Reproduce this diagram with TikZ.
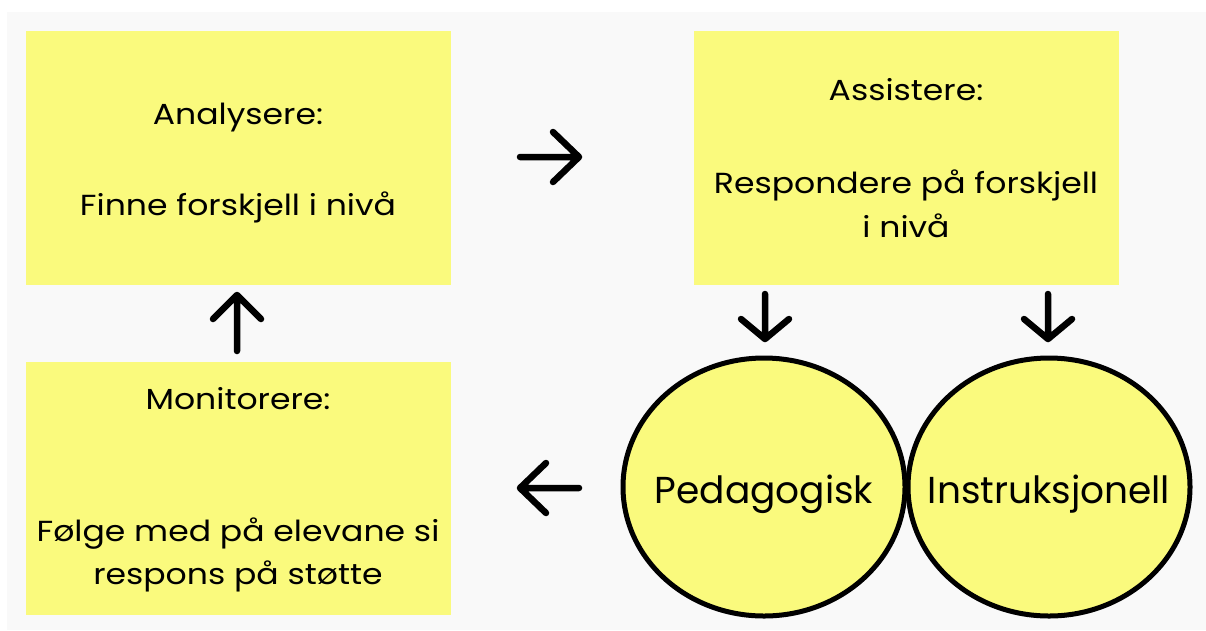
\documentclass[tikz,border=0pt]{standalone}
\usepackage{fontspec}
\setmainfont{Poppins}
\newfontfamily\boxfont[FakeStretch=1.14]{Poppins}
\usetikzlibrary{shapes.geometric}
\definecolor{stickyyellow}{RGB}{250,250,125}
\definecolor{panelgray}{RGB}{249,249,249}
\tikzset{
  sticky/.style={fill=stickyyellow, draw=none, inner sep=0pt},
  bubble/.style={ellipse, fill=stickyyellow, draw=black, line width=5pt, inner sep=0pt},
  boxtext/.style={anchor=base, font=\boxfont\fontsize{29}{44}\selectfont, align=center, inner sep=0pt},
  bubbletext/.style={anchor=base, font=\fontsize{37.5}{44}\selectfont, inner sep=0pt},
  flowarrow/.style={draw=black, line width=6.5pt, line cap=round, line join=round}
}
\begin{document}
\begin{tikzpicture}[x=1pt,y=-1pt]
\useasboundingbox (0,0) rectangle (1206,630);
\fill[white] (0,0) rectangle (1206,630);
\fill[panelgray] (7,12) rectangle (1206,630);
% boxes
\node[sticky, minimum width=425pt, minimum height=254pt] (ana) at (238.5,158) {};
\node[sticky, minimum width=425pt, minimum height=254pt] (ass) at (906.5,158) {};
\node[sticky, minimum width=425pt, minimum height=253pt] (mon) at (238.5,488.5) {};
% bubbles
\node[bubble, minimum width=282pt, minimum height=258pt] (ped) at (764,487) {};
\node[bubble, minimum width=282pt, minimum height=258pt] (ins) at (1049,487) {};
% texts
\node[boxtext] (tana) at (238,124) {Analysere:};
\node[boxtext] (tana2) at (238,215) {Finne forskjell i nivå};
\node[boxtext] (tass) at (906,100) {Assistere:};
\node[boxtext] (tass2) at (906,193) {Respondere på forskjell};
\node[boxtext] (tass3) at (906,237) {i nivå};
\node[boxtext] (tmon) at (238,409) {Monitorere:};
\node[boxtext] (tmon2) at (238,541) {Følge med på elevane si};
\node[boxtext] (tmon3) at (238,584) {respons på støtte};
\node[bubbletext] (tped) at (764,503) {Pedagogisk};
\node[bubbletext] (tins) at (1049,503) {Instruksjonell};
% arrows
\coordinate (r1) at (520,157); \coordinate (r2) at (579,157);
\draw[flowarrow] (r1) -- (r2) (553,132) -- (r2) -- (553,182);
\coordinate (l1) at (579,488); \coordinate (l2) at (520,488);
\draw[flowarrow] (l1) -- (l2) (546,463) -- (l2) -- (546,513);
\coordinate (u1) at (237,351); \coordinate (u2) at (237,295);
\draw[flowarrow] (u1) -- (u2) (213,319) -- (u2) -- (261,319);
\coordinate (d1) at (765,294); \coordinate (d2) at (765,339);
\draw[flowarrow] (d1) -- (d2) (741,319) -- (d2) -- (789,319);
\coordinate (e1) at (1048,294); \coordinate (e2) at (1048,339);
\draw[flowarrow] (e1) -- (e2) (1024,319) -- (e2) -- (1072,319);
\end{tikzpicture}
\end{document}
